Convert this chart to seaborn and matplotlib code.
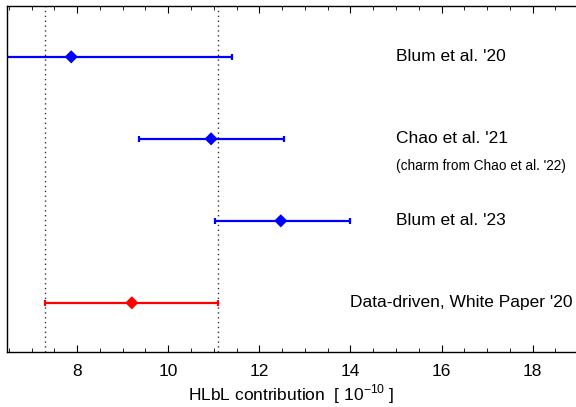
import matplotlib
matplotlib.use("Agg")
import matplotlib.pyplot as plt
import seaborn as sns
import pandas as pd

# values (units of 1e-10)
labels = ["Blum et al. '20", "Chao et al. '21", "Blum et al. '23", "Data-driven, White Paper '20"]
central = [7.87, 10.94, 12.47, 9.2]
lower = [4.37, 9.36, 11.02, 7.3]
upper = [11.39, 12.54, 14.0, 11.1]
rows = [4, 3, 2, 1]
colors = ["#0000ff", "#0000ff", "#0000ff", "#ff0000"]
label_x = [15.0, 15.0, 15.0, 14.0]
band = [7.3, 11.1]
note = "(charm from Chao et al. '22)"

df = pd.DataFrame({"label": labels, "central": central, "lower": lower,
                   "upper": upper, "row": rows, "color": colors})

sns.set_style("ticks")
plt.rcParams["font.family"] = ["Liberation Sans", "DejaVu Sans"]
plt.rcParams["mathtext.fontset"] = "custom"
plt.rcParams["mathtext.rm"] = "Liberation Sans"
plt.rcParams["axes.unicode_minus"] = False
plt.rcParams["text.color"] = "black"
plt.rcParams["axes.labelcolor"] = "black"
plt.rcParams["xtick.color"] = "black"

fig = plt.figure(figsize=(5.76, 4.07), dpi=100)
ax = fig.add_axes([7 / 576, 55 / 407, 569 / 576, 346 / 407])

for v in band:
    ax.axvline(v, color="#333333", linestyle=(0, (1, 2.5)), linewidth=1.0, zorder=1)

for _, r in df.iterrows():
    ax.errorbar(r["central"], r["row"],
                xerr=[[r["central"] - r["lower"]], [r["upper"] - r["central"]]],
                fmt="none", ecolor=r["color"], elinewidth=1.6,
                capsize=2.2, capthick=1.6, zorder=2)

sns.scatterplot(data=df, x="central", y="row", hue="color", palette=dict(zip(colors, colors)),
                marker="D", s=45, edgecolor="none", legend=False, ax=ax, zorder=3)

for lab, lx, ry in zip(labels, label_x, rows):
    ax.text(lx, ry, lab, fontsize=12.5, va="center", ha="left", color="black")
ax.text(15.0, 2.67, note, fontsize=9.8, va="center", ha="left", color="black")

ax.set_xlim(6.46, 18.95)
ax.set_ylim(0.4, 4.62)
ax.set_xticks([8, 10, 12, 14, 16, 18])
ax.set_xticks([x / 2 for x in range(13, 38)], minor=True)
ax.set_yticks([])
ax.tick_params(axis="x", which="major", direction="in", top=True, length=5,
               width=0.8, labelsize=12.5, pad=9, colors="black")
ax.tick_params(axis="x", which="minor", direction="in", top=True, length=3, width=0.6,
               colors="black")
ax.spines["right"].set_visible(False)
for s in ["left", "top", "bottom"]:
    ax.spines[s].set_linewidth(1.0)
    ax.spines[s].set_color("black")
ax.set_xlabel("HLbL contribution  [ 10$^{-10}$ ]", fontsize=12.5, labelpad=2, color="black")
ax.set_ylabel("")

fig.savefig("out.png", dpi=100)
